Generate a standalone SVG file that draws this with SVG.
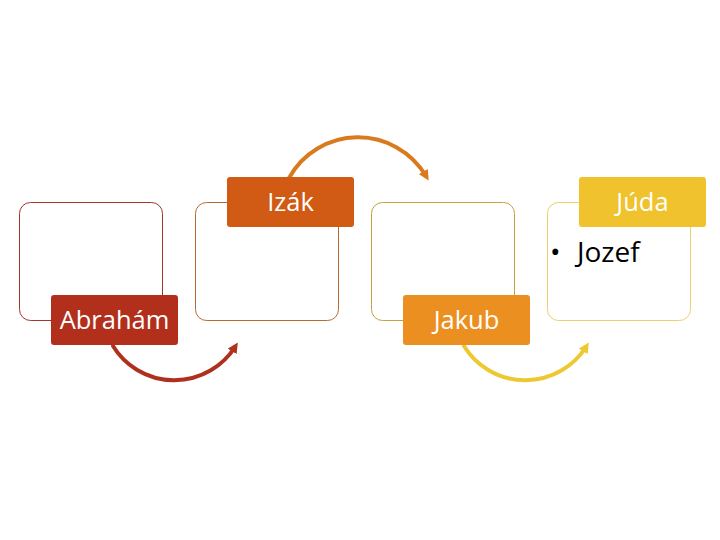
<svg xmlns="http://www.w3.org/2000/svg" width="720" height="540" viewBox="0 0 720 540">
<style>
.box{fill:#fff;stroke-width:1}
.lbl{font-family:"Open Sans","Noto Sans","Liberation Sans",sans-serif;font-size:25.5px;fill:#fff;text-anchor:middle}
.arc{fill:none;stroke-width:4;stroke-linecap:round}
</style>
<defs>
<marker id="mr" viewBox="0 0 10 10" refX="5" refY="5" markerWidth="2.6" markerHeight="2.6" orient="auto"><path d="M0,0 L10,5 L0,10 z" fill="#B0301E"/></marker>
<marker id="mo" viewBox="0 0 10 10" refX="5" refY="5" markerWidth="2.6" markerHeight="2.6" orient="auto"><path d="M0,0 L10,5 L0,10 z" fill="#DA7A1E"/></marker>
<marker id="my" viewBox="0 0 10 10" refX="5" refY="5" markerWidth="2.6" markerHeight="2.6" orient="auto"><path d="M0,0 L10,5 L0,10 z" fill="#EDC830"/></marker>
</defs>
<rect width="720" height="540" fill="#fff"/>
<g id="connectors">
<path class="arc" d="M113,346 A72,72 0 0 0 235,347" stroke="#B0301E" marker-end="url(#mr)"/>
<path class="arc" d="M289,178 A79,79 0 0 1 426,176" stroke="#DA7A1E" marker-end="url(#mo)"/>
<path class="arc" d="M464,346 A72,72 0 0 0 586,347" stroke="#EDC830" marker-end="url(#my)"/>
</g>
<g id="abraham">
<rect class="box" x="19.5" y="202.5" width="143" height="118" rx="11" stroke="#A5332A"/>
<rect x="51" y="295" width="127" height="50" rx="3" fill="#B22F1C"/>
<text class="lbl" x="114.5" y="329">Abrahám</text>
</g>
<g id="izak">
<rect class="box" x="195.5" y="202.5" width="143" height="118" rx="11" stroke="#B86B2E"/>
<rect x="227" y="177" width="127" height="50" rx="3" fill="#D15A14"/>
<text class="lbl" x="290.5" y="211">Izák</text>
</g>
<g id="jakub">
<rect class="box" x="371.5" y="202.5" width="143" height="118" rx="11" stroke="#C9A040"/>
<rect x="403" y="295" width="127" height="50" rx="3" fill="#EB9020"/>
<text class="lbl" x="466.5" y="329">Jakub</text>
</g>
<g id="juda">
<rect class="box" x="547.5" y="202.5" width="143" height="118" rx="11" stroke="#EBD070"/>
<rect x="579" y="177" width="127" height="50" rx="3" fill="#EFC22E"/>
<text class="lbl" x="642.5" y="211">Júda</text>
<text x="550" y="262" font-family="'Open Sans','Noto Sans','Liberation Sans',sans-serif" font-size="28" fill="#000">•<tspan x="577">Jozef</tspan></text>
</g>
</svg>
